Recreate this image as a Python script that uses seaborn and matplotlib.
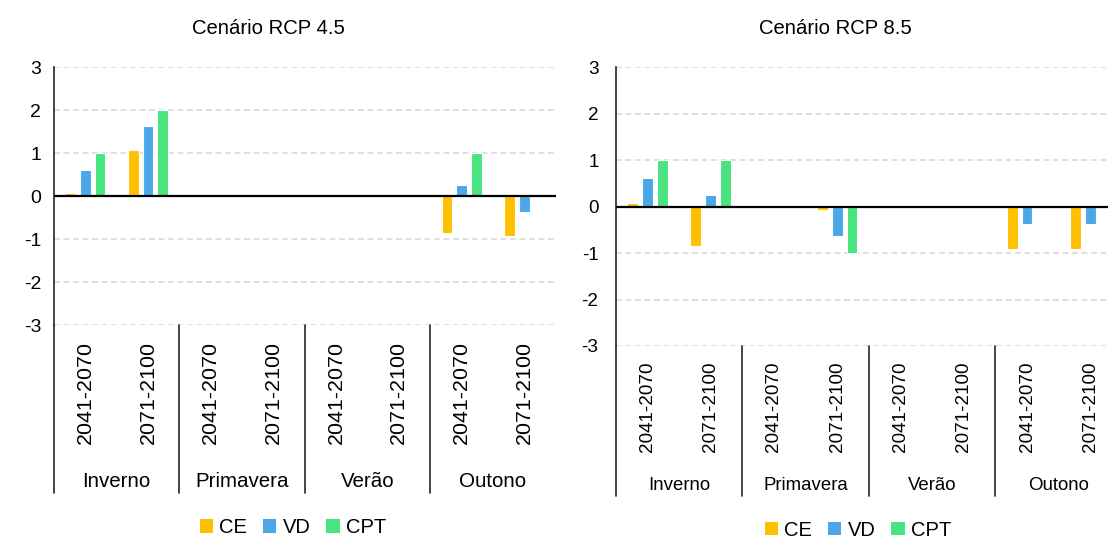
import matplotlib

matplotlib.use("Agg")
import matplotlib.pyplot as plt
import matplotlib.transforms as mtransforms
import pandas as pd
import seaborn as sns
from matplotlib.patches import Patch

SEASONS = ["Inverno", "Primavera", "Verão", "Outono"]
PERIODS = ["2041-2070", "2071-2100"]
INDICES = ["CE", "VD", "CPT"]
COLORS = ["#FFC000", "#4AA8E8", "#47E47F"]

# valores por categoria (estação x período), na ordem de SEASONS/PERIODS
rcp45_ce = [0.07, 1.08, 0.0, 0.0, 0.0, 0.0, -0.86, -0.93]
rcp45_vd = [0.62, 1.63, 0.0, 0.0, 0.0, 0.0, 0.25, -0.38]
rcp45_cpt = [1.0, 2.0, 0.0, 0.0, 0.0, 0.0, 1.0, 0.0]

rcp85_ce = [0.07, -0.84, 0.0, -0.08, 0.0, 0.0, -0.92, -0.92]
rcp85_vd = [0.62, 0.25, 0.0, -0.63, 0.0, 0.0, -0.38, -0.38]
rcp85_cpt = [1.0, 1.0, 0.0, -1.0, 0.0, 0.0, 0.0, 0.0]

Y_TICKS = [-3, -2, -1, 0, 1, 2, 3]

FIG_W, FIG_H = 1108, 541


def build_frame(ce, vd, cpt):
    keys = [f"{s}|{p}" for s in SEASONS for p in PERIODS]
    rows = []
    for name, vals in zip(INDICES, [ce, vd, cpt]):
        for key, v in zip(keys, vals):
            rows.append({"cat": key, "indice": name, "valor": v})
    return pd.DataFrame(rows), keys


def draw_panel(fig, rect, ce, vd, cpt, opts):
    ax = fig.add_axes(rect)
    df, keys = build_frame(ce, vd, cpt)
    sns.barplot(
        data=df,
        x="cat",
        y="valor",
        hue="indice",
        order=keys,
        hue_order=INDICES,
        palette=COLORS,
        saturation=1,
        width=0.7,
        gap=0.27,
        edgecolor="white",
        linewidth=0.8,
        errorbar=None,
        legend=False,
        ax=ax,
    )
    n = len(keys)
    ax.set_xlim(-0.5, n - 0.5)
    ax.set_ylim(Y_TICKS[0], Y_TICKS[-1])
    ax.set_yticks(Y_TICKS)
    ax.set_yticklabels([str(t) for t in Y_TICKS])
    ax.set_xlabel("")
    ax.set_ylabel("")

    for t in Y_TICKS:
        if t != 0:
            ax.axhline(t, color="#D9D9D9", lw=1.2, ls=(0, (3.5, 2.2)), zorder=0)
    ax.axhline(0, color="black", lw=1.6, zorder=4)

    for side in ["top", "right", "bottom"]:
        ax.spines[side].set_visible(False)
    ax.spines["left"].set_color("#262626")
    ax.spines["left"].set_linewidth(1.2)

    ax.tick_params(axis="y", direction="out", length=4.3, width=1.0, color="#262626",
                   pad=opts["ypad"], labelsize=opts["ysize"], labelcolor="black")
    ax.tick_params(axis="x", length=0, pad=opts["xpad"], labelsize=opts["xsize"],
                   labelcolor="black")
    ax.set_xticks(range(n))
    ax.set_xticklabels([k.split("|")[1] for k in keys], rotation=90, va="top")

    # linhas separadoras das estações abaixo do eixo
    height_px = rect[3] * FIG_H
    y_low = -opts["sep_px"] / height_px
    trans = mtransforms.blended_transform_factory(ax.transData, ax.transAxes)
    for i in range(0, n, len(PERIODS)):
        ax.plot([i - 0.5, i - 0.5], [0, y_low], color="#262626", lw=1.2,
                transform=trans, clip_on=False)

    for j, season in enumerate(SEASONS):
        xc = j * len(PERIODS) + (len(PERIODS) - 1) / 2
        ax.annotate(season, xy=(xc, 0), xycoords=trans,
                    xytext=(0, -opts["group_px"]), textcoords="offset pixels",
                    ha="center", va="baseline", fontsize=opts["gsize"], color="black")
    return ax


sns.set_theme(style="white")
plt.rcParams["font.family"] = ["Liberation Sans", "DejaVu Sans"]
plt.rcParams["text.color"] = "black"

fig = plt.figure(figsize=(FIG_W / 100, FIG_H / 100), dpi=100)

left_rect = [54 / FIG_W, 1 - 325 / FIG_H, 501.6 / FIG_W, 257.7 / FIG_H]
right_rect = [615.7 / FIG_W, 1 - 346 / FIG_H, 506.3 / FIG_W, 278.7 / FIG_H]

draw_panel(fig, left_rect, rcp45_ce, rcp45_vd, rcp45_cpt,
           {"ypad": 5, "ysize": 14, "xpad": 11.5, "xsize": 15.4, "gsize": 14.8,
            "sep_px": 168, "group_px": 161.7})
draw_panel(fig, right_rect, rcp85_ce, rcp85_vd, rcp85_cpt,
           {"ypad": 8, "ysize": 13.6, "xpad": 11, "xsize": 13.6, "gsize": 13.4,
            "sep_px": 150, "group_px": 144})

fig.text(268.5 / FIG_W, 1 - 33.5 / FIG_H, "Cenário RCP 4.5", ha="center",
         va="baseline", fontsize=14.6, color="black")
fig.text(835 / FIG_W, 1 - 34.5 / FIG_H, "Cenário RCP 8.5", ha="center",
         va="baseline", fontsize=14.6, color="black")

handles = [Patch(facecolor=c, edgecolor="none") for c in COLORS]
for cx, cy in [(293, 527.5), (858, 530)]:
    fig.legend(handles, INDICES, loc="center",
               bbox_to_anchor=(cx / FIG_W, 1 - cy / FIG_H),
               ncol=3, frameon=False, fontsize=14.5, labelcolor="black",
               handlelength=0.65, handleheight=0.65,
               handletextpad=0.3, columnspacing=0.8)

fig.savefig("out.png", dpi=100)
